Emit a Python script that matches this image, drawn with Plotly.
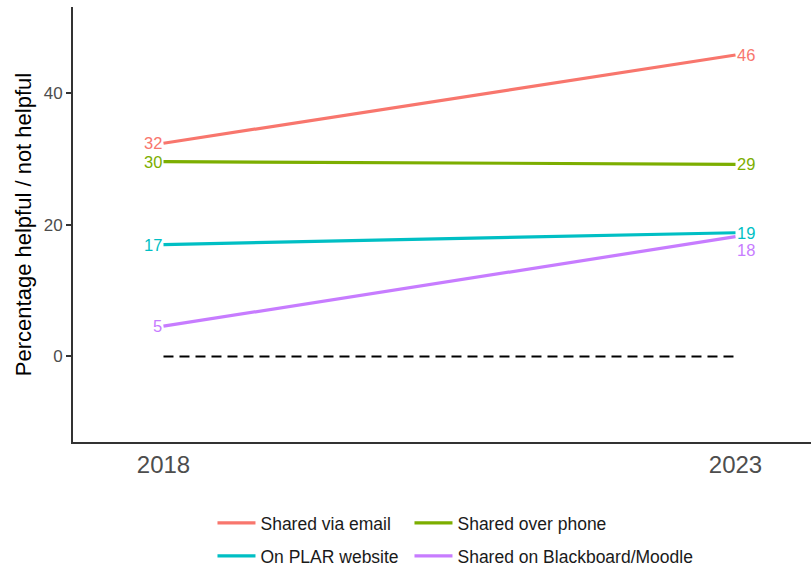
import plotly.graph_objects as go

years = [2018, 2023]
series_names = ["Shared via email", "Shared over phone", "On PLAR website", "Shared on Blackboard/Moodle"]
email = [32.4, 45.8]
phone = [29.6, 29.2]
plar = [17.0, 18.8]
blackboard = [4.6, 18.2]
values = [email, phone, plar, blackboard]
colors = ["#F8766D", "#7CAE00", "#00BFC4", "#C77CFF"]
legend_ids = ["legend", "legend", "legend2", "legend2"]
legend_widths = [144, 260, 144, 260]
baseline = [0, 0]
y_ticks = [0, 20, 40]

FONT = "Liberation Sans, Arial, sans-serif"

fig = go.Figure()

fig.add_trace(go.Scatter(
    x=years, y=baseline, mode="lines",
    line=dict(color="black", width=2, dash="10px,6px"),
    showlegend=False, hoverinfo="skip",
))

for name, vals, col, lg, lw in zip(series_names, values, colors, legend_ids, legend_widths):
    fig.add_trace(go.Scatter(
        x=years, y=vals, mode="lines", name=name,
        line=dict(color=col, width=3.2), legend=lg, legendwidth=lw,
    ))

annotations = []
for name, vals, col in zip(series_names, values, colors):
    for i, (yr, v) in enumerate(zip(years, vals)):
        shift = 0
        if name == "Shared on Blackboard/Moodle" and i == 1:
            shift = -13
        annotations.append(dict(
            x=yr, y=v, xref="x", yref="y", text=str(round(v)),
            showarrow=False, xanchor="right" if i == 0 else "left",
            yanchor="middle", yshift=shift, borderpad=0,
            font=dict(family=FONT, size=16.5, color=col),
        ))

legend_common = dict(
    orientation="h", xref="container", yref="container",
    xanchor="left", yanchor="middle",
    font=dict(family=FONT, size=17.5, color="#1a1a1a"),
    entrywidthmode="pixels", itemwidth=38,
    bgcolor="rgba(0,0,0,0)", traceorder="normal",
)

fig.update_layout(
    width=811, height=570,
    margin=dict(l=73, r=0, t=7, b=128, autoexpand=False),
    paper_bgcolor="white", plot_bgcolor="white",
    showlegend=True,
    legend=dict(legend_common, x=0.262, y=0.0825),
    legend2=dict(legend_common, x=0.262, y=0.0246),
    annotations=annotations,
    xaxis=dict(
        range=[2017.209, 2023.66], tickvals=years, ticktext=[str(y) for y in years],
        showgrid=False, zeroline=False, showline=True, linecolor="#333333", linewidth=2,
        ticks="", tickfont=dict(family=FONT, size=24, color="#4D4D4D"),
        ticklabelstandoff=0,
    ),
    yaxis=dict(
        range=[-13.0, 53.1], tickvals=y_ticks,
        showgrid=False, zeroline=False, showline=True, linecolor="#333333", linewidth=2,
        ticks="outside", ticklen=5, tickcolor="#333333", tickwidth=1.5,
        tickfont=dict(family=FONT, size=17, color="#4D4D4D"),
        title=dict(text="Percentage helpful / not helpful", font=dict(family=FONT, size=22, color="black"), standoff=6),
    ),
)

fig.write_html("out.html", config={"displayModeBar": False},
               post_script="document.body.style.margin='0';")
